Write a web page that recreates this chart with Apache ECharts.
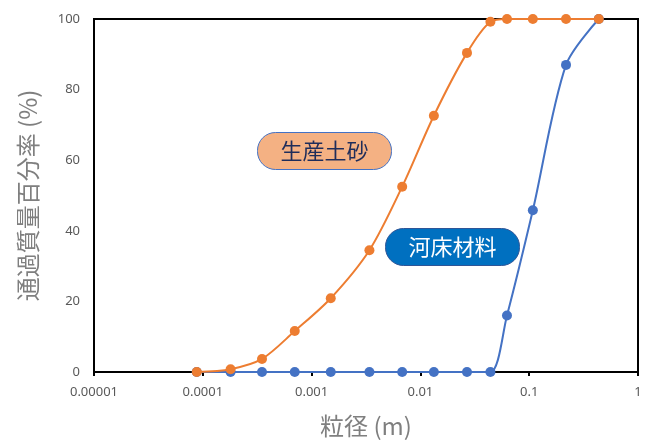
<!DOCTYPE html>
<html><head><meta charset="utf-8">
<script src="https://cdn.jsdelivr.net/npm/echarts@6/dist/echarts.min.js"></script>
<style>html,body{margin:0;padding:0;background:#fff}#c{width:654px;height:443px}</style>
</head><body><div id="c"></div>
<script>
const sizes = [0.000088, 0.00018, 0.00035, 0.0007, 0.0015, 0.0034, 0.0068, 0.0133, 0.0268, 0.044, 0.0625, 0.108, 0.218, 0.436];
const sedimentPassing = [0, 0.8, 3.7, 11.6, 20.9, 34.5, 52.5, 72.6, 90.4, 99.2, 100, 100, 100, 100];
const bedPassing = [0, 0, 0, 0, 0, 0, 0, 0, 0, 0, 16.0, 45.8, 87.0, 100];
const xTickLabels = ['0.00001', '0.0001', '0.001', '0.01', '0.1', '1'];
const yTickLabels = ['0', '20', '40', '60', '80', '100'];
const sedimentName = '生産土砂';
const bedName = '河床材料';

const chart = echarts.init(document.getElementById('c'), null, {renderer: 'canvas'});
const numFont = '"Noto Sans", sans-serif';
const jpFont = '"Noto Sans CJK JP", sans-serif';
chart.setOption({
  animation: false,
  grid: {left: 94, right: 16, top: 19, bottom: 70, show: true, borderColor: '#000', borderWidth: 2, backgroundColor: 'transparent'},
  xAxis: {
    type: 'log', logBase: 10, min: 0.00001, max: 1,
    name: '粒径 (m)', nameLocation: 'middle', nameGap: 42,
    nameTextStyle: {fontFamily: jpFont, fontSize: 24, color: '#7f7f7f'},
    axisLine: {show: true, lineStyle: {color: '#000', width: 2}},
    axisTick: {show: true, length: 4, lineStyle: {color: '#000', width: 2}},
    splitLine: {show: false},
    axisLabel: {fontFamily: numFont, fontSize: 13, color: '#595959', margin: 14,
      formatter: v => { const i = Math.round(Math.log10(v)) + 5; return xTickLabels[i] || ''; }}
  },
  yAxis: {
    type: 'value', min: 0, max: 100, interval: 20,
    name: '通過質量百分率 (%)', nameLocation: 'middle', nameGap: 54,
    nameTextStyle: {fontFamily: jpFont, fontSize: 24, color: '#7f7f7f'},
    axisLine: {show: true, lineStyle: {color: '#000', width: 2}},
    axisTick: {show: false},
    splitLine: {show: false},
    axisLabel: {fontFamily: numFont, fontSize: 13, color: '#595959', margin: 14,
      formatter: v => yTickLabels[Math.round(v / 20)]}
  },
  series: [
    {name: bedName, type: 'line', smooth: 0.3, data: sizes.map((s, i) => [s, bedPassing[i]]),
     symbol: 'circle', symbolSize: 10, itemStyle: {color: '#4472c4'}, lineStyle: {color: '#4472c4', width: 2}, z: 2},
    {name: sedimentName, type: 'line', smooth: 0.3, data: sizes.map((s, i) => [s, sedimentPassing[i]]),
     symbol: 'circle', symbolSize: 10, itemStyle: {color: '#ed7d31'}, lineStyle: {color: '#ed7d31', width: 2}, z: 3}
  ],
  graphic: [
    {type: 'group', left: 257, top: 132, z: 100, children: [
      {type: 'rect', shape: {x: 0, y: 0, width: 134, height: 37, r: 18}, style: {fill: '#f4b183', stroke: '#4472c4', lineWidth: 1}},
      {type: 'text', style: {x: 67, y: 18.5, text: sedimentName, align: 'center', verticalAlign: 'middle', font: '22px "Noto Sans CJK JP"', fill: '#1f2d5a'}}
    ]},
    {type: 'group', left: 385, top: 228, z: 100, children: [
      {type: 'rect', shape: {x: 0, y: 0, width: 134, height: 37, r: 18}, style: {fill: '#0070c0', stroke: '#2f5597', lineWidth: 1}},
      {type: 'text', style: {x: 67, y: 18.5, text: bedName, align: 'center', verticalAlign: 'middle', font: '22px "Noto Sans CJK JP"', fill: '#ffffff'}}
    ]}
  ]
});
</script></body></html>
